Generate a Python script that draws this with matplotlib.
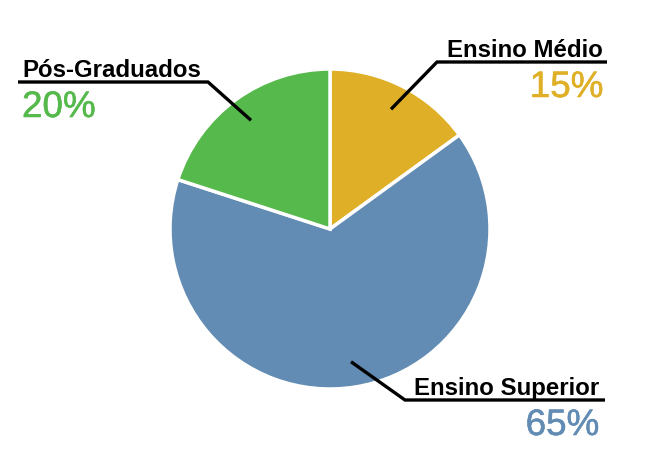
import numpy as np
import matplotlib.pyplot as plt
import matplotlib.patheffects as pe

plt.rcParams['font.family'] = ['Liberation Sans', 'DejaVu Sans']

categories = ["Ensino Médio", "Ensino Superior", "Pós-Graduados"]
values = [15, 65, 20]
colors = ["#DFB027", "#628CB3", "#56B94C"]

W, H = 660, 460
fig = plt.figure(figsize=(W / 100, H / 100), dpi=100)
ax = fig.add_axes([0, 0, 1, 1])

cx, cy, r = 330, H - 230, 160
wedges, _ = ax.pie(values, colors=colors, startangle=90, counterclock=False,
                   center=(cx, cy), radius=r, frame=True,
                   wedgeprops=dict(edgecolor="white", linewidth=2.5))

ax.set_xlim(0, W)
ax.set_ylim(0, H)
ax.set_aspect("equal")
ax.axis("off")

# label layout: elbow point, end of underline, text anchor side
layout = {
    "Ensino Médio": dict(elbow=(437, 63), end=607, ha="right", tx=603),
    "Ensino Superior": dict(elbow=(405, 401), end=605, ha="right", tx=599),
    "Pós-Graduados": dict(elbow=(208, 83), end=18, ha="left", tx=22),
}

for w, name, val, col in zip(wedges, categories, values, colors):
    ang = np.deg2rad((w.theta1 + w.theta2) / 2)
    sx = cx + 0.84 * r * np.cos(ang)
    sy = cy + 0.84 * r * np.sin(ang)
    lay = layout[name]
    ex, ey = lay["elbow"][0], H - lay["elbow"][1]
    ax.plot([sx, ex, lay["end"]], [sy, ey, ey], color="black", lw=2.4,
            solid_capstyle="butt", solid_joinstyle="miter")
    ax.text(lay["tx"], ey + 6, name, ha=lay["ha"], va="baseline",
            fontsize=17.3, fontweight="bold", color="black")
    # percentages look slightly heavier than regular weight
    ax.text(lay["tx"], ey - 35, f"{val}%", ha=lay["ha"], va="baseline",
            fontsize=26.5, color=col,
            path_effects=[pe.withStroke(linewidth=0.4, foreground=col)])

fig.savefig("out.png", dpi=100)
